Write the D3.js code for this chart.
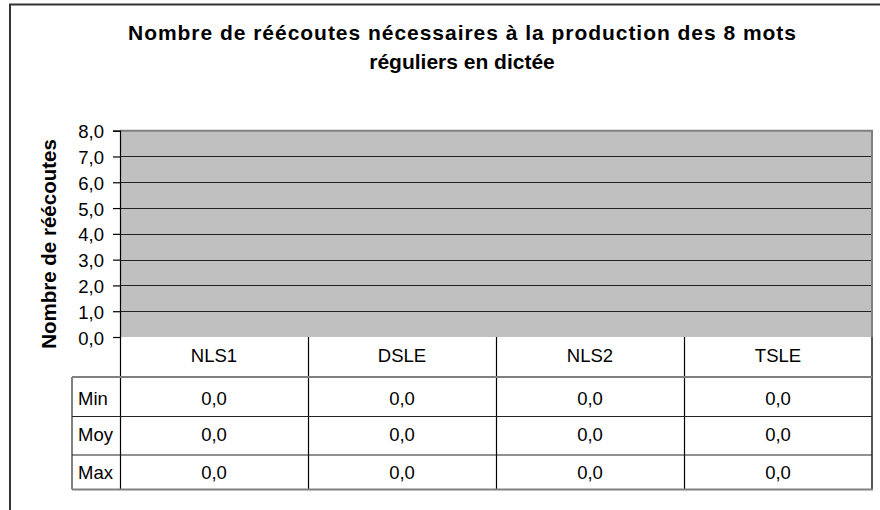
<!DOCTYPE html>
<html>
<head>
<meta charset="utf-8">
<script src="https://cdn.jsdelivr.net/npm/d3@7"></script>
<style>
  html, body { margin: 0; padding: 0; background: #fff; }
  svg { display: block; }
  text { font-family: Arial, "Liberation Sans", sans-serif; fill: #000; }
</style>
</head>
<body>
<svg id="chart" width="880" height="510"></svg>
<script>
// Data
const categories = ["NLS1", "DSLE", "NLS2", "TSLE"];
const seriesNames = ["Min", "Moy", "Max"];
const minValues = [0.0, 0.0, 0.0, 0.0];
const meanValues = [0.0, 0.0, 0.0, 0.0];
const maxValues = [0.0, 0.0, 0.0, 0.0];
const yTicks = [0, 1, 2, 3, 4, 5, 6, 7, 8];
const titleLines = ["Nombre de réécoutes nécessaires à la production des 8 mots", "réguliers en dictée"];
const yAxisTitle = "Nombre de réécoutes";

const seriesValues = [minValues, meanValues, maxValues];

// Layout
const plot = { left: 120, right: 872, top: 130.7, bottom: 337 };
const tableRowEdges = [337, 377, 416.5, 455, 489.5];
const rowBaselines = [405, 440.5, 479];
const rowHeaderLeft = 72;
const bodySize = "18.5px";

const fr = d3.formatLocale({ decimal: ",", thousands: " ", grouping: [3], currency: ["", " €"] });
const fmt = fr.format(".1f");

const svg = d3.select("#chart");

// Outer chart frame
svg.append("rect")
  .attr("x", 10).attr("y", 4.5)
  .attr("width", 900).attr("height", 600)
  .attr("fill", "#fff").attr("stroke", "#333").attr("stroke-width", 2);

// Title
const title = svg.append("text")
  .attr("text-anchor", "middle")
  .style("font-size", "21px").style("font-weight", "bold");
title.append("tspan").attr("x", 462).attr("y", 40)
  .attr("textLength", 668).attr("lengthAdjust", "spacing").text(titleLines[0]);
title.append("tspan").attr("x", 462).attr("y", 68.5)
  .text(titleLines[1]);

// Scales
const x = d3.scaleBand().domain(categories).range([plot.left, plot.right]);
const xs = d3.scaleBand().domain(seriesNames).range([0, x.bandwidth()]).paddingInner(0).paddingOuter(0.8);
const y = d3.scaleLinear().domain([0, 8]).range([plot.bottom, plot.top]);

// Plot area
svg.append("rect")
  .attr("x", plot.left).attr("y", plot.top)
  .attr("width", plot.right - plot.left).attr("height", plot.bottom - plot.top)
  .attr("fill", "#c0c0c0");

// Gridlines
svg.append("g")
  .selectAll("line")
  .data(yTicks.filter(t => t > 0 && t < 8))
  .join("line")
  .attr("x1", plot.left).attr("x2", plot.right)
  .attr("y1", d => Math.round(y(d)) + 0.5).attr("y2", d => Math.round(y(d)) + 0.5)
  .attr("stroke", "#222").attr("stroke-width", 1.2);

// Plot border top/right
svg.append("path")
  .attr("d", `M${plot.left},${plot.top} H${plot.right} V${plot.bottom}`)
  .attr("fill", "none").attr("stroke", "#808080").attr("stroke-width", 2);

// Bars (three series per category)
const barColors = ["#9999ff", "#993366", "#ffffcc"];
svg.append("g")
  .selectAll("g")
  .data(seriesValues)
  .join("g")
  .attr("fill", (d, i) => barColors[i])
  .selectAll("rect")
  .data((vals, si) => vals.map((v, ci) => ({ v, ci, si })))
  .join("rect")
  .attr("x", d => x(categories[d.ci]) + xs(seriesNames[d.si]))
  .attr("width", xs.bandwidth())
  .attr("y", d => y(d.v))
  .attr("height", d => y(0) - y(d.v))
  .attr("stroke", "#000");

// Y axis
const yAxis = d3.axisLeft(y).tickValues(yTicks).tickSize(7).tickPadding(9).tickFormat(fmt);
const gy = svg.append("g").attr("transform", `translate(${plot.left},0)`).call(yAxis);
gy.attr("font-size", null).attr("font-family", null);
gy.select(".domain").attr("stroke", "#000").attr("stroke-width", 1.2);
gy.selectAll(".tick line").attr("stroke", "#000").attr("stroke-width", 1.2);
gy.selectAll(".tick text")
  .style("font-size", bodySize)
  .attr("dy", "0.38em")
  .attr("fill", "#000");

// Y axis title
svg.append("text")
  .attr("transform", "translate(55.5,244) rotate(-90)")
  .attr("text-anchor", "middle")
  .style("font-size", "20.5px").style("font-weight", "bold")
  .text(yAxisTitle);

// Data table
const table = svg.append("g");
const catTop = tableRowEdges[0], catBottom = tableRowEdges[1];
const tableBottom = tableRowEdges[tableRowEdges.length - 1];

// Column separators (categories)
table.selectAll("line.col")
  .data(categories)
  .join("line")
  .attr("class", "col")
  .attr("x1", d => x(d) + 0.5).attr("x2", d => x(d) + 0.5)
  .attr("y1", catTop).attr("y2", tableBottom)
  .attr("stroke", "#000").attr("stroke-width", 1.2);

// Right edge
table.append("line")
  .attr("x1", plot.right).attr("x2", plot.right)
  .attr("y1", catTop).attr("y2", tableBottom)
  .attr("stroke", "#555").attr("stroke-width", 2);

// Horizontal line under category row and bottom border (gray)
table.append("line")
  .attr("x1", rowHeaderLeft).attr("x2", plot.right)
  .attr("y1", catBottom).attr("y2", catBottom)
  .attr("stroke", "#808080").attr("stroke-width", 2);
table.append("line")
  .attr("x1", rowHeaderLeft).attr("x2", plot.right + 1)
  .attr("y1", tableBottom).attr("y2", tableBottom)
  .attr("stroke", "#808080").attr("stroke-width", 2);

// Row header left border
table.append("line")
  .attr("x1", rowHeaderLeft).attr("x2", rowHeaderLeft)
  .attr("y1", catBottom).attr("y2", tableBottom)
  .attr("stroke", "#808080").attr("stroke-width", 2);

// Inner row separators
table.selectAll("line.row")
  .data(tableRowEdges.slice(2, -1))
  .join("line")
  .attr("class", "row")
  .attr("x1", rowHeaderLeft).attr("x2", plot.right)
  .attr("y1", d => d).attr("y2", d => d)
  .attr("stroke", "#222").attr("stroke-width", 1.2);

// Category labels
table.selectAll("text.cat")
  .data(categories)
  .join("text")
  .attr("class", "cat")
  .attr("x", d => x(d) + x.bandwidth() / 2)
  .attr("y", 362)
  .attr("text-anchor", "middle")
  .style("font-size", bodySize)
  .text(d => d);

// Series rows
seriesNames.forEach((name, si) => {
  const baseline = rowBaselines[si];
  table.append("text")
    .attr("x", rowHeaderLeft + 6).attr("y", baseline)
    .style("font-size", bodySize)
    .text(name);
  table.selectAll(`text.v${si}`)
    .data(seriesValues[si])
    .join("text")
    .attr("class", `v${si}`)
    .attr("x", (d, ci) => x(categories[ci]) + x.bandwidth() / 2)
    .attr("y", baseline)
    .attr("text-anchor", "middle")
    .style("font-size", bodySize)
    .text(d => fmt(d));
});
</script>
</body>
</html>
